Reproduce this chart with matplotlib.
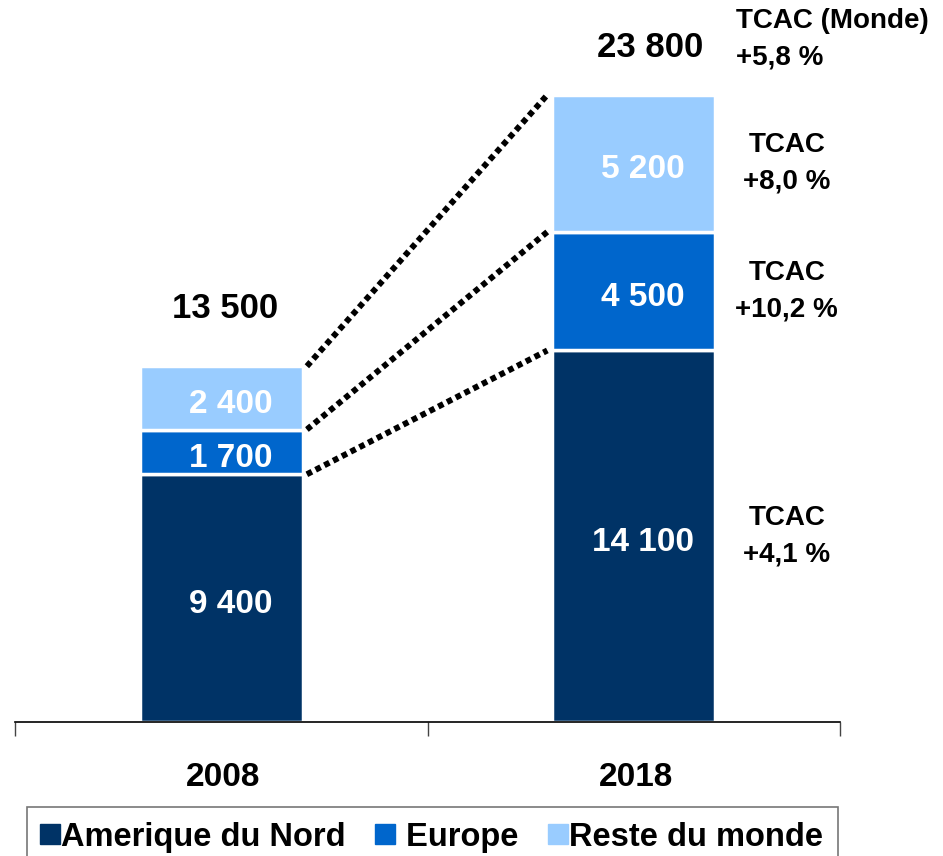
import numpy as np
from matplotlib import pyplot as plt
from matplotlib import font_manager
from matplotlib.lines import Line2D

#################################################

# data
years = ['2008', '2018']
regions = ['Amerique du Nord', 'Europe', 'Reste du monde']
amerique = [9400, 14100]
europe = [1700, 4500]
reste = [2400, 5200]
totals = [13500, 23800]
tcac_labels = ['TCAC\n+4,1 %', 'TCAC\n+10,2 %', 'TCAC\n+8,0 %']
tcac_monde = 'TCAC (Monde)\n+5,8 %'

colors = ['#003366', '#0066CC', '#99CCFF']

#################################################

plt.rcParams['font.family'] = ['Liberation Sans', 'DejaVu Sans']
plt.rcParams['font.weight'] = 'bold'

names = {f.name for f in font_manager.fontManager.ttflist}
if 'Liberation Sans Narrow' in names:
    legend_font = {'family': 'Liberation Sans Narrow', 'size': 30, 'weight': 'bold'}
else:
    legend_font = {'family': 'Liberation Sans', 'size': 23.5, 'weight': 'bold'}

W, H = 943, 856
fig = plt.figure(figsize=(W / 100, H / 100), dpi=100)
ax = fig.add_axes([15 / W, 134 / H, 825 / W, 722 / H])

x = np.arange(len(years))
width = 0.395
series = [amerique, europe, reste]
bottoms = np.zeros(len(years))
tops = []
for vals, col in zip(series, colors):
    vals = np.array(vals)
    ax.bar(x, vals, width, bottom=bottoms, color=col, edgecolor='white', linewidth=2.5, zorder=2)
    for xi, b, v in zip(x, bottoms, vals):
        ax.annotate(f'{v:,}'.replace(',', ' '), (xi + 0.022, b + v / 2), xytext=(0, -4.5),
                    textcoords='offset points', ha='center', va='center',
                    color='white', fontsize=24, fontweight='bold', zorder=3)
    bottoms = bottoms + vals
    tops.append(bottoms.copy())

ax.set_xlim(-0.5, 1.5)
ax.set_ylim(0, 27400)

# totals above bars
offsets = [58, 47]
for xi, t, off in zip(x, totals, offsets):
    ax.annotate(f'{t:,}'.replace(',', ' '), (xi + 0.01 + 0.03 * xi, t), xytext=(0, off * 0.72),
                textcoords='offset points', ha='center', va='center', fontsize=25, fontweight='bold')

# dotted connectors between segment tops
for top in tops:
    ax.plot([x[0] + width / 2 + 0.01, x[1] - width / 2 - 0.012], [top[0], top[1]],
            color='black', linewidth=4.3, linestyle=(0, (0.95, 0.7)), dash_capstyle='butt', zorder=1)

# growth labels on the right of 2018 bar
prev = 0
for top, lab in zip(tops, tcac_labels):
    ax.text(1.371, (prev + top[1]) / 2, lab, ha='center', va='center', fontsize=20,
            fontweight='bold', linespacing=1.5, clip_on=False)
    prev = top[1]
ax.annotate(tcac_monde, (1.248, tops[-1][1]), xytext=(0, 40), textcoords='offset points',
            ha='left', va='center', fontsize=20, fontweight='bold', linespacing=1.5)

# axis styling
for s in ['left', 'top', 'right']:
    ax.spines[s].set_visible(False)
ax.spines['bottom'].set_linewidth(1.2)
ax.set_yticks([])
ax.set_xticks([-0.5, 0.5, 1.5])
ax.set_xticklabels([])
ax.tick_params(axis='x', length=10, width=1, direction='out', color='#444444')
for xi, yr in zip(x, years):
    ax.text(xi + 0.005, -2100, yr, ha='center', va='center', fontsize=24, fontweight='bold', clip_on=False)

# legend
handles = [Line2D([], [], linestyle='none', marker='s', markersize=14, color=c) for c in colors]
labels = [regions[0], ' ' + regions[1], regions[2]]
leg = fig.legend(handles, labels, loc='upper left', bbox_to_anchor=(27 / W, 1 - 807 / H - 0.01, 811 / W, 0.01),
                 mode='expand', ncol=3, prop=legend_font, frameon=True, fancybox=False,
                 edgecolor='#555555', borderaxespad=0, handlelength=0.5, handletextpad=0.1,
                 columnspacing=0.8, borderpad=0.45)
leg.get_frame().set_linewidth(1.2)

plt.savefig('out.png', dpi=100)
